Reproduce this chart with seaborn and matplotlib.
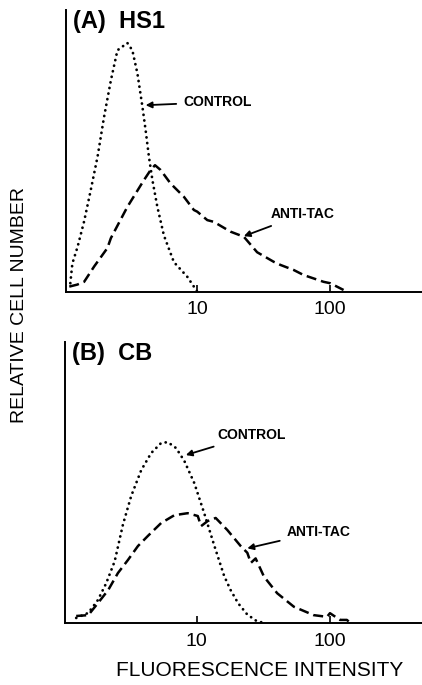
import matplotlib
matplotlib.use("Agg")
import matplotlib.pyplot as plt
import seaborn as sns
from matplotlib.ticker import FixedLocator, FixedFormatter, NullLocator

sns.set_theme(style="white")
plt.rcParams['font.family'] = ['Liberation Sans', 'DejaVu Sans']
plt.rcParams['text.color'] = 'black'
plt.rcParams['xtick.color'] = 'black'
plt.rcParams['axes.labelcolor'] = 'black'

# panel A (HS1) - fluorescence intensity vs relative cell number (% of axis height)
ctrl_a_x = [1.11, 1.15, 1.26, 1.41, 1.58, 1.78, 1.99, 2.24, 2.51, 2.98, 3.25, 3.55,
            3.87, 4.09, 4.33, 4.60, 5.01, 5.61, 6.67, 8.41, 9.43, 10.0]
ctrl_a_y = [3, 10, 16, 25, 36, 48, 62, 75, 85.7, 88.3, 85.7, 77.4,
            65.6, 57.3, 47.9, 39.6, 30.1, 20.0, 10.5, 5.3, 1.8, 0]
tac_a_x = [1.09, 1.25, 1.41, 1.68, 2.11, 2.24, 2.98, 3.97, 4.46, 4.81, 5.30, 6.30,
           7.93, 9.43, 10.0, 11.9, 13.3, 17.8, 22.4, 28.2, 37.6, 42.2, 53.1, 63.1,
           75.0, 89.1, 100, 126]
tac_a_y = [1.8, 2.5, 3.5, 9, 15.5, 19, 30.1, 39.6, 43.2, 44.9, 43.2, 38.4,
           33.7, 29.0, 28.4, 25.4, 24.8, 21.3, 19.5, 14.0, 10.6, 9.5, 7.7, 5.9,
           4.7, 3.5, 3.0, 0.6]

# panel B (CB)
ctrl_b_x = [1.25, 1.54, 1.82, 2.10, 2.43, 2.80, 3.23, 3.84, 4.56, 5.42, 6.08, 7.01,
            8.09, 9.61, 11.4, 13.6, 16.1, 18.0, 20.5, 24.0, 28.0, 32.0]
ctrl_b_y = [1.8, 3.6, 8.2, 14.2, 22.0, 35.0, 45.2, 54.4, 60.5, 64.1, 64.4, 62.3,
            57.7, 49.8, 39.1, 27.4, 16.7, 11.7, 7.0, 3.0, 0.8, 0]
tac_b_x = [1.25, 1.54, 1.82, 2.17, 2.57, 3.05, 3.63, 4.31, 5.42, 6.82, 8.57, 10.2,
           10.8, 12.1, 13.9, 17.0, 21.4, 24.0, 25.5, 27.7, 32.0, 40.2, 53.6, 75.5,
           95.1, 100, 119, 134, 142]
tac_b_y = [2.5, 2.8, 7.1, 11.7, 17.8, 22.4, 27.4, 31.0, 35.6, 38.4, 39.1, 38.1,
           34.5, 36.3, 37.4, 33.1, 27.4, 25.0, 21.4, 23.0, 16.5, 10.6, 5.8, 2.8,
           2.2, 3.5, 1.1, 1.1, 0]

panel_titles = ["(A)  HS1", "(B)  CB"]
tick_vals = [10, 100]
tick_labels = ["10", "100"]

# label positions: (arrow tip x, y), (text x, y)
ctrl_notes = [((4.09, 66.2), (7.9, 67.3)), ((8.3, 59.8), (14.3, 66.9))]
tac_notes = [((22.4, 19.7), (35.6, 27.5)), ((24.0, 26.6), (47.7, 32.5))]

fig = plt.figure(figsize=(4.22, 6.85), dpi=100)
ax_a = fig.add_axes([0.1564, 0.5742, 0.8436, 0.4112])
ax_b = fig.add_axes([0.154, 0.0905, 0.846, 0.410])

panels = [
    (ax_a, ctrl_a_x, ctrl_a_y, tac_a_x, tac_a_y),
    (ax_b, ctrl_b_x, ctrl_b_y, tac_b_x, tac_b_y),
]

for i, (ax, cx, cy, tx, ty) in enumerate(panels):
    # control: dotted
    sns.lineplot(x=cx, y=cy, ax=ax, color="black", estimator=None, sort=False)
    ax.lines[-1].set_linestyle((0, (0.05, 2.0)))
    ax.lines[-1].set_dash_capstyle("round")
    ax.lines[-1].set_linewidth(2.0)
    # anti-tac: dashed
    sns.lineplot(x=tx, y=ty, ax=ax, color="black", estimator=None, sort=False)
    ax.lines[-1].set_linestyle((0, (4, 2)))
    ax.lines[-1].set_linewidth(1.8)

    ax.set_xscale("log")
    ax.set_xlim(1.03, 490)
    ax.set_ylim(0, 100)
    ax.xaxis.set_major_locator(FixedLocator(tick_vals))
    ax.xaxis.set_major_formatter(FixedFormatter(tick_labels))
    ax.xaxis.set_minor_locator(NullLocator())
    ax.yaxis.set_major_locator(NullLocator())
    ax.tick_params(axis="x", direction="in", length=5, width=1.2, color="black",
                   labelsize=14, pad=7, bottom=True, labelcolor="black")
    for s in ["top", "right"]:
        ax.spines[s].set_visible(False)
    for s in ["left", "bottom"]:
        ax.spines[s].set_color("black")
        ax.spines[s].set_linewidth(1.4)
    ax.set_xlabel("")
    ax.set_ylabel("")

    ax.text(0.02, 1.0, panel_titles[i], transform=ax.transAxes, fontsize=17,
            fontweight="bold", ha="left", va="top", color="black")

    arrow = dict(arrowstyle="-|>", color="black", lw=1.3, mutation_scale=9,
                 shrinkA=3, shrinkB=0)
    tip, txt = ctrl_notes[i]
    ax.annotate("CONTROL", xy=tip, xytext=txt, ha="left", va="center",
                fontsize=10, fontweight="bold", color="black", arrowprops=arrow)
    tip, txt = tac_notes[i]
    ax.annotate("ANTI-TAC", xy=tip, xytext=txt, ha="left", va="center",
                fontsize=10, fontweight="bold", color="black", arrowprops=arrow)

fig.text(20 / 422, 1 - 305 / 685, "RELATIVE CELL NUMBER", rotation=90,
         ha="center", va="center", fontsize=14, color="black")
fig.text(260 / 422, 1 - 670 / 685, "FLUORESCENCE INTENSITY",
         ha="center", va="center", fontsize=15, color="black")

fig.savefig("out.png", dpi=100)
